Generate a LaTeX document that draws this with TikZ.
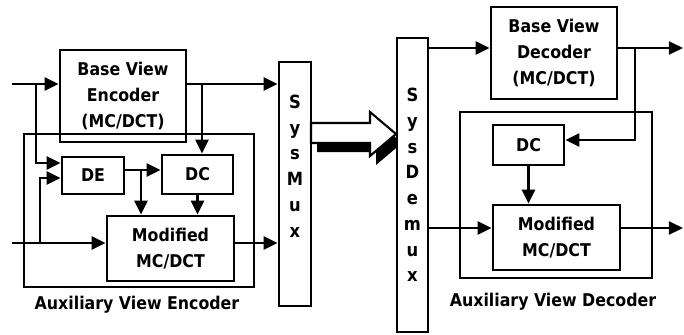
\documentclass[tikz,border=0pt]{standalone}
\usepackage{fontspec}
\setmainfont{DejaVu Sans Condensed}[BoldFont=DejaVu Sans Condensed Bold]
\usetikzlibrary{arrows.meta}

\tikzset{
  blk/.style={draw, line width=2.4pt, inner sep=0pt, align=center, font=\fontsize{15}{22}\selectfont\bfseries},
  vtxt/.style={align=center, inner sep=0pt, font=\fontsize{15.5}{22}\selectfont\bfseries},
  sig/.style={line width=2.4pt, -{Triangle[length=12pt,width=11pt]}},
  lbl/.style={inner sep=0pt, font=\fontsize{15}{22}\selectfont\bfseries},
}

\begin{document}
\begin{tikzpicture}[x=0.03cm,y=-0.03cm]
\useasboundingbox (0,0) rectangle (684,334);

% encoder side
\node[blk, minimum width=6.90cm, minimum height=4.59cm] (auxenc) at (139,210.5) {};
\node[blk, minimum width=3.78cm, minimum height=2.76cm] (benc) at (123,96) {Base View\\Encoder\\(MC/DCT)};
\node[blk, minimum width=1.86cm, minimum height=1.11cm] (de) at (93,175.5) {DE};
\node[blk, minimum width=2.13cm, minimum height=1.17cm] (dce) at (197.5,174.5) {DC};
\node[blk, minimum width=3.81cm, minimum height=1.95cm] (mod) at (170.5,248.5) {Modified\\MC/DCT};
\node[lbl] (encl) at (137,305) {Auxiliary View Encoder};

\node[blk, minimum width=0.96cm, minimum height=7.32cm] (mux) at (295,184) {};
\node[vtxt] (muxtxt) at ([yshift=0.54cm]mux.center) {S\\y\\s\\M\\u\\x};

% channel
\fill[black] (317,132) -- (376,132) -- (376,121) -- (402,143) -- (376,165) -- (376,152) -- (317,152) -- cycle;
\filldraw[fill=white, draw=black, line width=1.8pt] (311,123) -- (370,123) -- (370,112) -- (396,134) -- (370,156) -- (370,143) -- (311,143) -- cycle;

% decoder side
\node[blk, fill=white, minimum width=0.93cm, minimum height=8.82cm] (demux) at (412.5,185) {};
\node[vtxt] (demuxtxt) at (demux.center) {S\\y\\s\\D\\e\\m\\u\\x};
\node[blk, minimum width=3.78cm, minimum height=2.76cm] (bdec) at (554,53) {Base View\\Decoder\\(MC/DCT)};
\node[blk, minimum width=5.76cm, minimum height=4.98cm] (auxdec) at (556,195) {};
\node[blk, minimum width=2.13cm, minimum height=1.20cm] (dcd) at (528.5,145) {DC};
\node[blk, minimum width=3.81cm, minimum height=1.95cm] (modd) at (556.5,237.5) {Modified\\MC/DCT};
\node[lbl] (decl) at (553,302) {Auxiliary View Decoder};

\coordinate (in1) at (12,84);
\coordinate (in2) at (12,243);
\coordinate (j1) at (36,84);
\coordinate (k1) at (36,163);
\coordinate (j2) at (40,243);
\coordinate (k2) at (40,178);
\coordinate (j3) at (202,84);
\coordinate (j4) at (141,170);
\coordinate (j5) at (635,48);
\coordinate (k5) at (635,140);
\coordinate (out1) at (683,48);
\coordinate (out2) at (683,228);

\draw[sig] (in1) -- (in1 -| benc.west);
\draw[sig] (j1) -- (k1) -- (k1 -| de.west);
\draw[sig] (in2) -- (in2 -| mod.west);
\draw[sig] (j2) -- (k2) -- (k2 -| de.west);
\draw[sig] (in1 -| benc.east) -- (in1 -| mux.west);
\draw[sig] (j3) -- (j3 |- dce.north);
\draw[sig] (j4 -| de.east) -- (j4 -| dce.west);
\draw[sig] (j4) -- (j4 |- mod.north);
\draw[sig] (dce.south) -- (dce.south |- mod.north);
\draw[sig] (in2 -| mod.east) -- (in2 -| mux.west);

\draw[sig] (j5 -| demux.east) -- (j5 -| bdec.west);
\draw[sig] (j5 -| bdec.east) -- (out1);
\draw[sig] (j5) -- (k5) -- (k5 -| dcd.east);
\draw[sig] (dcd.south) -- (dcd.south |- modd.north);
\draw[sig] (out2 -| demux.east) -- (out2 -| modd.west);
\draw[sig] (out2 -| modd.east) -- (out2);
\end{tikzpicture}
\end{document}
